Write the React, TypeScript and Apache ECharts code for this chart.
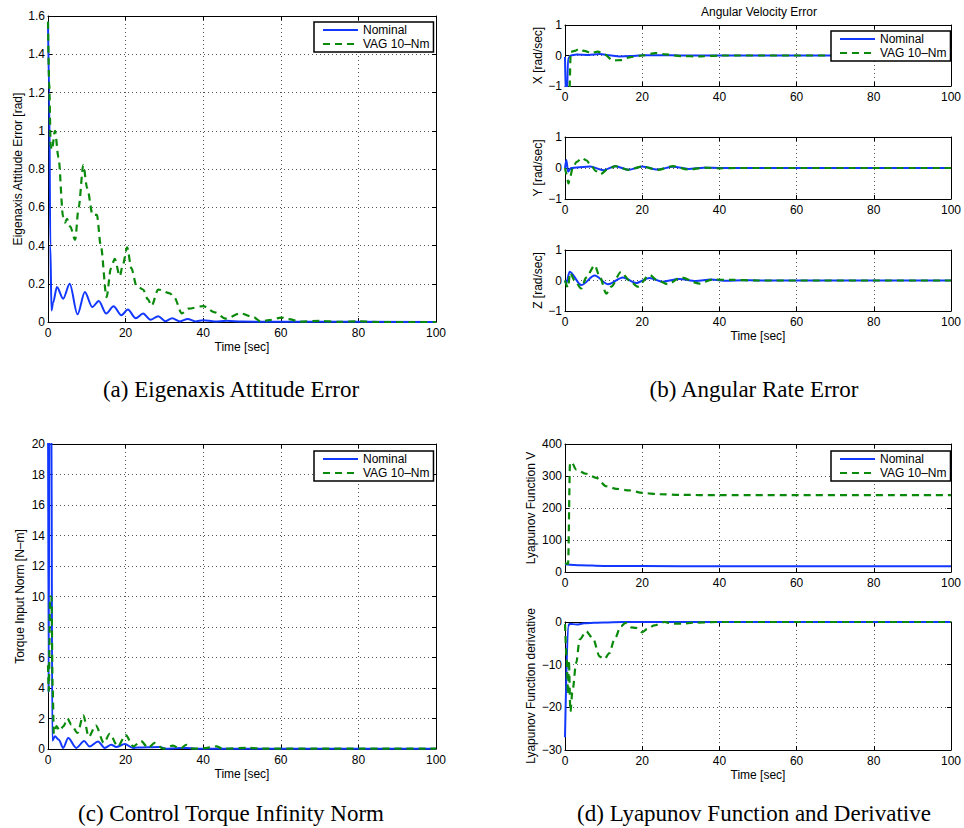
import React, { useEffect, useRef } from "react";
import * as echarts from "echarts";

type P = [number, number][];

// ---------- tick definitions ----------
const timeTicks = [0, 20, 40, 60, 80, 100];
const attTicks = [0, 0.2, 0.4, 0.6, 0.8, 1, 1.2, 1.4, 1.6];
const rateTicks = [-1, 0, 1];
const torqueTicks = [0, 2, 4, 6, 8, 10, 12, 14, 16, 18, 20];
const lyapTicks = [0, 100, 200, 300, 400];
const lyapDotTicks = [-30, -20, -10, 0];

const seriesNames = ["Nominal", "VAG 10\u2013Nm"];

// ---------- (a) Eigenaxis attitude error ----------
const attNominal: P = [
  [0, 1.57], [0.3, 1.2], [0.6, 0.4], [0.9, 0.06], [1.3, 0.1], [2.3, 0.183], [3.9, 0.122],
  [5.6, 0.2], [7.6, 0.04], [9.5, 0.157], [11.4, 0.078], [13.1, 0.11], [15, 0.044],
  [16.9, 0.082], [18.9, 0.035], [20.6, 0.065], [22.6, 0.02], [24.5, 0.044], [26.4, 0.012],
  [28.4, 0.03], [30.3, 0.004], [32, 0.02], [34, 0.003], [36, 0.016], [38, 0.003],
  [40, 0.009], [43, 0.003], [46, 0.006], [50, 0.002], [60, 0.001], [100, 0],
];
const attVag: P = [
  [0, 1.57], [0.3, 1.25], [0.7, 0.92], [1.0, 0.9], [1.8, 1.0], [2.7, 0.86], [3.9, 0.55],
  [4.4, 0.52], [4.9, 0.54], [5.7, 0.5], [7.0, 0.43], [7.9, 0.6], [9.1, 0.82], [10.1, 0.7],
  [11.5, 0.56], [12.6, 0.56], [13.6, 0.4], [15.1, 0.13], [16.2, 0.28], [17.2, 0.33],
  [18.5, 0.24], [19.3, 0.3], [20.4, 0.39], [21.5, 0.28], [22.8, 0.19], [24.5, 0.17],
  [25.7, 0.12], [26.7, 0.085], [28.4, 0.17], [31.4, 0.15], [32.5, 0.13], [34.5, 0.045],
  [36.2, 0.07], [40, 0.083], [43, 0.05], [45.8, 0.018], [49.6, 0.045], [52.9, 0.026],
  [54.8, 0.003], [57, 0.01], [60.2, 0.023], [62, 0.015], [65, 0.002], [70, 0.006],
  [75, 0.001], [80, 0.004], [85, 0], [100, 0],
];

// ---------- (b) angular velocity error ----------
const rateXNominal: P = [
  [0, -0.05], [0.2, -1.3], [0.5, -1.3], [0.8, -0.1], [1.5, 0], [3, 0.03], [6, 0.02],
  [9, 0.05], [12, 0], [14, -0.03], [17, -0.02], [20, 0.01], [25, 0.01], [30, 0], [100, 0],
];
const rateXVag: P = [
  [0, -1.3], [1.1, -1.3], [1.5, 0.12], [2.5, 0.15], [3.7, 0.22], [5, 0.15], [6.8, 0.08],
  [8.5, 0.13], [10, 0.05], [12.5, -0.16], [14.5, -0.15], [17, -0.05], [20, 0], [23.5, 0.08],
  [26, 0.04], [30, -0.02], [35, -0.03], [40, 0], [100, 0],
];
const rateYNominal: P = [
  [0, 0], [0.35, 0.26], [0.8, -0.12], [1.6, 0], [3, 0.02], [6.5, 0.05], [10, -0.07],
  [13, 0.06], [16.5, -0.06], [20, 0.05], [24, -0.05], [28, 0.04], [32, -0.03], [36, 0.01],
  [40, 0], [100, 0],
];
const rateYVag: P = [
  [0, 0], [0.4, -0.2], [0.9, -0.5], [1.3, -0.3], [2, 0], [3, 0.2], [4.4, 0.32], [5.5, 0.25],
  [6.5, 0.13], [8, -0.1], [9.2, -0.2], [11, -0.05], [13, 0.06], [16.5, -0.06], [20, 0.05],
  [24, -0.06], [28, 0.06], [32, -0.05], [36, 0.01], [40, -0.01], [45, 0], [100, 0],
];
const rateZNominal: P = [
  [0, 0], [0.3, -0.1], [1.2, 0.29], [4.2, -0.15], [7.7, 0.16], [11.1, -0.12], [15, 0.1],
  [18.4, -0.08], [21.9, 0.08], [25.3, -0.04], [29.6, 0.05], [33.9, -0.02], [37.8, 0.03],
  [42, -0.01], [46, 0.01], [50, 0], [100, 0],
];
const rateZVag: P = [
  [0, 0], [0.8, -0.23], [1.3, 0.25], [2.5, 0], [4.2, -0.26], [5.5, 0.1], [7.7, 0.5],
  [9, 0.12], [10.7, -0.43], [12, -0.2], [14.5, 0.28], [16.7, 0], [18.8, -0.2], [21.9, 0.18],
  [24, 0], [26.6, -0.12], [30, 0.1], [34.8, -0.1], [38.2, 0.03], [43, 0.02], [50, 0], [100, 0],
];

// ---------- (c) torque input norm ----------
const torqueNominal: P = [
  [0, 25], [0.15, 3.7], [0.4, 25], [0.85, 25], [1.1, 0.55], [1.8, 0.83], [2.8, 0.6],
  [3.9, 0.07], [5.2, 0.72], [7.3, 0.07], [9.3, 0.52], [10.7, 0.17], [12.9, 0.5], [14.6, 0.07],
  [16.3, 0.28], [17.6, 0.13], [19.8, 0.33], [21.9, 0.07], [23, 0.1], [28.8, 0.13],
  [30.5, 0.02], [33, 0.05], [35.7, 0.07], [38, 0.02], [40, 0.02], [100, 0.02],
];
const torqueVag: P = [
  [0, 5.5], [0.2, 3.8], [0.55, 10], [0.9, 10], [1.2, 4], [1.5, 1.0], [2.2, 1.5], [3, 1.2],
  [4, 1.5], [5.0, 2.0], [6.0, 1.6], [7.6, 1.05], [9.1, 2.2], [10.5, 0.8], [12.3, 1.55],
  [14.4, 0.4], [15.9, 1.0], [18, 0.17], [20, 0.92], [22, 0.17], [24, 0.52], [25.8, 0.07],
  [27.5, 0.4], [29.7, 0.02], [32.2, 0.22], [34, 0.02], [35.7, 0.28], [37.4, 0.02], [40, 0.05],
  [43.4, 0.17], [45, 0.02], [52, 0.08], [55, 0.02], [100, 0.02],
];

// ---------- (d) Lyapunov function and derivative ----------
const lyapNominal: P = [[0, 24], [4, 21], [10, 19], [20, 18.5], [40, 18], [100, 18]];
const lyapVag: P = [
  [0, 28], [0.8, 25], [1.3, 340], [1.7, 343], [2.9, 320], [5.5, 307], [8.1, 294],
  [10.7, 268], [13.3, 260], [16.7, 255], [20.1, 247], [24.4, 243], [30.5, 241], [39, 240],
  [100, 240],
];
const lyapDotNominal: P = [
  [0, -27], [0.8, -1], [1.2, -0.4], [3, -0.6], [5, -0.3], [10, -0.1], [15, 0], [100, 0],
];
const lyapDotVag: P = [
  [0, -0.5], [0.4, -8], [0.8, -17], [1.0, -9], [1.4, -21], [1.9, -16.5], [2.9, -9.6],
  [3.8, -4.1], [5.5, -2.2], [7.2, -3.8], [9, -8.1], [10.2, -8.7], [11.5, -7.3], [12.8, -4.1],
  [14.5, -1], [15.7, -0.2], [17.1, -1.25], [18.4, -1.4], [20, -2.4], [21.4, -1.6],
  [23.1, -0.8], [25.7, 0], [27.9, -0.4], [30.5, -0.4], [33, -0.15], [40, 0], [100, 0],
];

// ---------- styling / layout ----------
const FONT = "'Liberation Sans', Arial, Helvetica, sans-serif";
const SERIF = "'Liberation Serif', 'DejaVu Serif', serif";
const BLUE = "#1238ff";
const GREEN = "#0a8a0a";
const FS = 12;

type Panel = {
  grid: { left: number; top: number; width: number; height: number };
  yTicks: number[];
  yName: string;
  yGap: number;
  xName?: string;
  data: P[];
};

const panels: Panel[] = [
  { grid: { left: 48, top: 16, width: 388, height: 306 }, yTicks: attTicks, yName: "Eigenaxis Attitude Error [rad]", yGap: 24, xName: "Time [sec]", data: [attNominal, attVag] },
  { grid: { left: 565, top: 25, width: 388, height: 61 }, yTicks: rateTicks, yName: "X [rad/sec]", yGap: 15, data: [rateXNominal, rateXVag] },
  { grid: { left: 565, top: 137, width: 388, height: 62 }, yTicks: rateTicks, yName: "Y [rad/sec]", yGap: 15, data: [rateYNominal, rateYVag] },
  { grid: { left: 565, top: 250, width: 388, height: 61 }, yTicks: rateTicks, yName: "Z [rad/sec]", yGap: 15, xName: "Time [sec]", data: [rateZNominal, rateZVag] },
  { grid: { left: 48, top: 444, width: 388, height: 305 }, yTicks: torqueTicks, yName: "Torque Input Norm [N\u2013m]", yGap: 22, xName: "Time [sec]", data: [torqueNominal, torqueVag] },
  { grid: { left: 565, top: 444, width: 388, height: 128 }, yTicks: lyapTicks, yName: "Lyapunov Function V", yGap: 28, data: [lyapNominal, lyapVag] },
  { grid: { left: 565, top: 622, width: 388, height: 128 }, yTicks: lyapDotTicks, yName: "Lyapunov Function derivative", yGap: 28, xName: "Time [sec]", data: [lyapDotNominal, lyapDotVag] },
];

const legendPos: [number, number][] = [[314, 22], [831, 31], [314, 451], [831, 451]];

const captions: { text: string; x: number; y: number }[] = [
  { text: "(a) Eigenaxis Attitude Error", x: 231, y: 389 },
  { text: "(b) Angular Rate Error", x: 754, y: 389 },
  { text: "(c) Control Torque Infinity Norm", x: 231, y: 813 },
  { text: "(d) Lyapunov Function and Derivative", x: 754, y: 813 },
];

const fmt = (v: number) => String(v).replace("-", "\u2212");

function buildOption() {
  const axisLine = { show: true, onZero: false, lineStyle: { color: "#000", width: 1 } };
  const axisTick = { show: true, inside: true, length: 4, lineStyle: { color: "#000" } };
  const split = { show: true, lineStyle: { color: "#555", width: 1, type: [1, 3] } };
  const labelStyle = { color: "#000", fontSize: FS, fontFamily: FONT };

  const xAxis: any[] = [];
  const yAxis: any[] = [];
  panels.forEach((p, i) => {
    const tmin = timeTicks[0];
    const tmax = timeTicks[timeTicks.length - 1];
    const tint = timeTicks[1] - timeTicks[0];
    const ymin = p.yTicks[0];
    const ymax = p.yTicks[p.yTicks.length - 1];
    const yint = p.yTicks[1] - p.yTicks[0];
    xAxis.push({
      type: "value", gridIndex: i, position: "bottom", min: tmin, max: tmax, interval: tint,
      name: p.xName || "", nameLocation: "middle", nameGap: 19, nameTextStyle: labelStyle,
      axisLine, axisTick, axisLabel: { ...labelStyle, margin: 5, formatter: fmt }, splitLine: split,
    });
    xAxis.push({
      type: "value", gridIndex: i, position: "top", min: tmin, max: tmax, interval: tint,
      axisLine, axisTick, axisLabel: { show: false }, splitLine: { show: false },
    });
    yAxis.push({
      type: "value", gridIndex: i, position: "left", min: ymin, max: ymax, interval: yint,
      name: p.yName, nameLocation: "middle", nameGap: p.yGap, nameTextStyle: labelStyle,
      axisLine, axisTick, axisLabel: { ...labelStyle, margin: 3, formatter: fmt }, splitLine: split,
    });
    yAxis.push({
      type: "value", gridIndex: i, position: "right", min: ymin, max: ymax, interval: yint,
      axisLine, axisTick, axisLabel: { show: false }, splitLine: { show: false },
    });
  });

  const series: any[] = [];
  panels.forEach((p, i) => {
    p.data.forEach((d, k) => {
      series.push({
        type: "line",
        name: seriesNames[k],
        xAxisIndex: 2 * i,
        yAxisIndex: 2 * i,
        data: d,
        symbol: "none",
        showSymbol: false,
        smooth: 0.3,
        smoothMonotone: "x",
        clip: true,
        lineStyle: k === 0
          ? { color: BLUE, width: 2 }
          : { color: GREEN, width: 2.2, type: [7, 5] },
        itemStyle: { color: k === 0 ? BLUE : GREEN },
      });
    });
  });

  const legend = legendPos.map(([l, t]) => ({
    data: seriesNames,
    orient: "vertical",
    left: l,
    top: t,
    padding: [2, 4, 2, 8],
    itemWidth: 35,
    itemHeight: 12,
    itemGap: 2,
    backgroundColor: "#fff",
    borderColor: "#000",
    borderWidth: 1.5,
    borderRadius: 0,
    selectedMode: false,
    itemStyle: { opacity: 0 },
    textStyle: { color: "#000", fontSize: FS, fontFamily: FONT, padding: [0, 0, 0, 0] },
  }));

  const graphic: any[] = [
    {
      type: "text", x: 759, y: 12,
      style: { text: "Angular Velocity Error", align: "center", verticalAlign: "middle", font: `${FS}px ${FONT}`, fill: "#000" },
    },
    ...captions.map((c) => ({
      type: "text", x: c.x, y: c.y,
      style: { text: c.text, align: "center", verticalAlign: "middle", font: `23px ${SERIF}`, fill: "#000" },
    })),
  ];

  return {
    animation: false,
    backgroundColor: "#fff",
    grid: panels.map((p) => ({ ...p.grid, containLabel: false })),
    xAxis,
    yAxis,
    series,
    legend,
    graphic,
  };
}

export default function App() {
  const ref = useRef<HTMLDivElement>(null);
  useEffect(() => {
    if (!ref.current) return;
    const chart = echarts.init(ref.current, undefined, { renderer: "svg" });
    chart.setOption(buildOption() as any);
    return () => chart.dispose();
  }, []);
  return (
    <div
      ref={ref}
      style={{ position: "fixed", left: 0, top: 0, width: 964, height: 828, background: "#fff" }}
    />
  );
}
